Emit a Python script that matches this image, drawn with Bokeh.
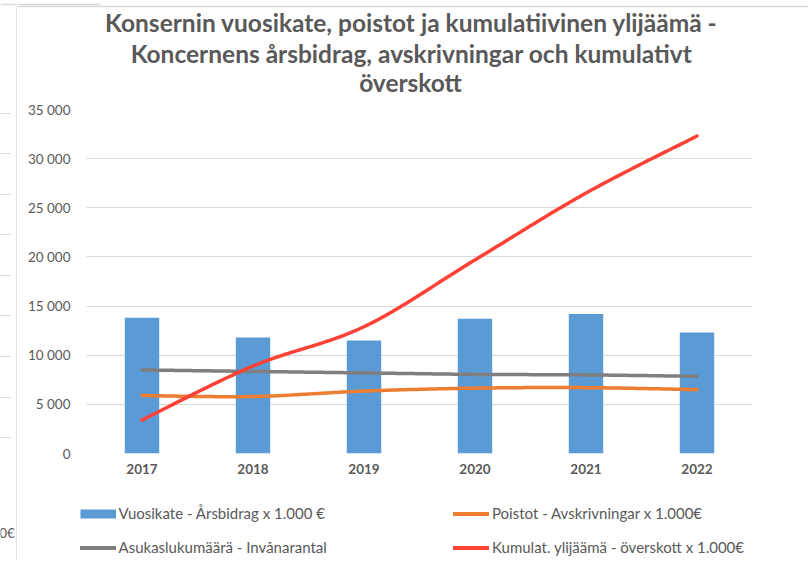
import numpy as np
from bokeh.plotting import figure
from bokeh.layouts import row, column
from bokeh.models import (Range1d, FixedTicker, Legend, LegendItem, ColumnDataSource)
from bokeh.core.properties import value
from bokeh.embed import file_html
from bokeh.resources import INLINE

# ---- data ----
years = ["2017", "2018", "2019", "2020", "2021", "2022"]
vuosikate = [13800, 11800, 11500, 13700, 14200, 12300]
poistot = [5900, 5800, 6350, 6650, 6700, 6500]
asukas = [8500, 8350, 8200, 8050, 8000, 7850]
kumulat = [3400, 8900, 12900, 19700, 26500, 32300]

y_ticks = [0, 5000, 10000, 15000, 20000, 25000, 30000, 35000]
y_tick_labels = ["0", "5 000", "10 000", "15 000", "20 000", "25 000", "30 000", "35 000"]

title_lines = ["Konsernin vuosikate, poistot ja kumulatiivinen ylijäämä -",
               "Koncernens årsbidrag, avskrivningar och kumulativt",
               "överskott"]
legend_labels = ["Vuosikate - Årsbidrag x 1.000 €",
                 "Poistot - Avskrivningar x 1.000€",
                 "Asukaslukumäärä - Invånarantal",
                 "Kumulat. ylijäämä - överskott x 1.000€"]
edge_text = "0€"   # fragment of a neighbouring chart visible at the left edge

C_BAR = "#5B9BD5"
C_OR = "#ED7D31"
C_GR = "#7F7F7F"
C_RED = "#FF4136"
TXT = "#595959"
EDGE = "#D9D9D9"
FONT = "Lato"


def smooth(ys, n=40):
    """Excel-like smoothed line (Catmull-Rom Bezier) through the data points."""
    pts = np.column_stack([np.arange(len(ys)), ys]).astype(float)
    xs_out, ys_out = [], []
    m = len(pts)
    for i in range(m - 1):
        p0 = pts[max(i - 1, 0)]
        p1 = pts[i]
        p2 = pts[i + 1]
        p3 = pts[min(i + 2, m - 1)]
        c1 = p1 + (p2 - p0) / 6.0
        c2 = p2 - (p3 - p1) / 6.0
        t = np.linspace(0, 1, n, endpoint=(i == m - 2))[:, None]
        b = ((1 - t) ** 3) * p1 + 3 * ((1 - t) ** 2) * t * c1 + 3 * (1 - t) * t ** 2 * c2 + t ** 3 * p2
        xs_out.extend(b[:, 0])
        ys_out.extend(b[:, 1])
    return xs_out, ys_out


def bare(width, height, xr, yr):
    f = figure(width=width, height=height, output_backend="svg", toolbar_location=None,
               x_range=Range1d(*xr), y_range=Range1d(*yr), x_axis_type=None,
               y_axis_type=None, min_border=0, frame_align=False)
    f.outline_line_color = None
    f.xgrid.visible = False
    f.ygrid.visible = False
    f.background_fill_color = "white"
    f.border_fill_color = "white"
    return f


MAIN_W = 791
TOTAL_H = 560
TITLE_H = 100
MAIN_H = 385
LEG_H = TOTAL_H - TITLE_H - MAIN_H

# ---- left strip (edge of the screenshot) ----
left = bare(17, TOTAL_H, (0, 17), (TOTAL_H, 0))
left.segment(x0=[16.5], y0=[6], x1=[16.5], y1=[TOTAL_H], line_color=EDGE, line_width=1.5)
left.segment(x0=[0], y0=[4], x1=[17], y1=[4], line_color=EDGE, line_width=1.5)
stub_y = [113, 153, 194, 234, 275, 315, 356, 397, 437]
left.segment(x0=[0] * len(stub_y), y0=stub_y, x1=[10] * len(stub_y), y1=stub_y,
             line_color=EDGE, line_width=1)
left.text(x=[-1], y=[532], text=[edge_text], text_font=value(FONT),
          text_font_size="13px", text_color=TXT, text_baseline="middle",
          text_align="left")

# ---- title strip ----
top = bare(MAIN_W, TITLE_H, (17, 17 + MAIN_W), (TITLE_H, 0))
top.segment(x0=[17], y0=[6], x1=[17 + MAIN_W], y1=[6], line_color=EDGE, line_width=1.5)
top.segment(x0=[17], y0=[4], x1=[100], y1=[4], line_color=EDGE, line_width=1.5)
top.text(x=[411, 411, 410], y=[22, 52.5, 82], text=title_lines,
         text_font=value(FONT), text_font_size="24.5px", text_font_style="bold",
         text_color=TXT, text_align="center", text_baseline="alphabetic")

# ---- main chart ----
p = figure(width=MAIN_W, height=MAIN_H, output_backend="svg", toolbar_location=None,
           x_range=Range1d(-0.5, 5.5), y_range=Range1d(0, 35000), frame_align=False,
           min_border_left=69, min_border_right=MAIN_W - (752 - 17),
           min_border_top=109 - TITLE_H, min_border_bottom=MAIN_H - (453 - TITLE_H))
p.outline_line_color = None
p.background_fill_color = "white"
p.border_fill_color = "white"

xs = list(range(len(years)))
src = ColumnDataSource(dict(x=xs, top=vuosikate))
p.vbar(x="x", top="top", width=0.31, source=src, fill_color=C_BAR, line_color=None)

ox, oy = smooth(poistot)
p.line(ox, oy, line_color=C_OR, line_width=3.5, line_cap="round")
gx, gy = smooth(asukas)
p.line(gx, gy, line_color=C_GR, line_width=3.5, line_cap="round")
rx, ry = smooth(kumulat)
p.line(rx, ry, line_color=C_RED, line_width=3.5, line_cap="round")

p.xaxis.ticker = FixedTicker(ticks=xs)
p.xaxis.major_label_overrides = {i: y for i, y in enumerate(years)}
p.xaxis.major_label_text_font = FONT
p.xaxis.major_label_text_font_style = "bold"
p.xaxis.major_label_text_font_size = "13.5px"
p.xaxis.major_label_text_color = TXT
p.xaxis.axis_line_color = None
p.xaxis.major_tick_line_color = None
p.xaxis.major_tick_out = 0
p.xaxis.major_tick_in = 0
p.xaxis.minor_tick_line_color = None
p.xaxis.major_label_standoff = 10

p.yaxis.ticker = FixedTicker(ticks=y_ticks)
p.yaxis.major_label_overrides = {t: l for t, l in zip(y_ticks, y_tick_labels)}
p.yaxis.major_label_text_font = FONT
p.yaxis.major_label_text_font_size = "13.5px"
p.yaxis.major_label_text_color = TXT
p.yaxis.axis_line_color = None
p.yaxis.major_tick_line_color = None
p.yaxis.major_tick_out = 0
p.yaxis.major_tick_in = 0
p.yaxis.minor_tick_line_color = None
p.yaxis.major_label_standoff = 16

p.xgrid.grid_line_color = None
p.ygrid.ticker = FixedTicker(ticks=y_ticks)
p.ygrid.grid_line_color = EDGE
p.ygrid.grid_line_width = 1

# ---- legend strip ----
lg = bare(MAIN_W, LEG_H, (0, 1), (0, 1))
far = dict(x=[-5, -4], y=[-5, -5])
r_bar = lg.line(far["x"], far["y"], line_color=C_BAR, line_width=9, line_cap="butt")
r_or = lg.line(far["x"], far["y"], line_color=C_OR, line_width=4, line_cap="round")
r_gr = lg.line(far["x"], far["y"], line_color=C_GR, line_width=4, line_cap="round")
r_red = lg.line(far["x"], far["y"], line_color=C_RED, line_width=4, line_cap="round")

leg_style = dict(orientation="vertical", glyph_width=36, glyph_height=17,
                 label_standoff=3, label_height=17, spacing=16,
                 padding=0, margin=0, border_line_color=None,
                 background_fill_alpha=0, label_text_font=FONT,
                 label_text_font_size="15px", label_text_color=TXT)
leg1 = Legend(items=[LegendItem(label=legend_labels[0], renderers=[r_bar]),
                     LegendItem(label=legend_labels[2], renderers=[r_gr])],
              location=(62.5, 4), **leg_style)
leg2 = Legend(items=[LegendItem(label=legend_labels[1], renderers=[r_or]),
                     LegendItem(label=legend_labels[3], renderers=[r_red])],
              location=(436, 4), **leg_style)
lg.add_layout(leg1, "center")
lg.add_layout(leg2, "center")

layout = row(left, column(top, p, lg, spacing=0), spacing=0)

open("out.html", "w").write(file_html(layout, INLINE))
